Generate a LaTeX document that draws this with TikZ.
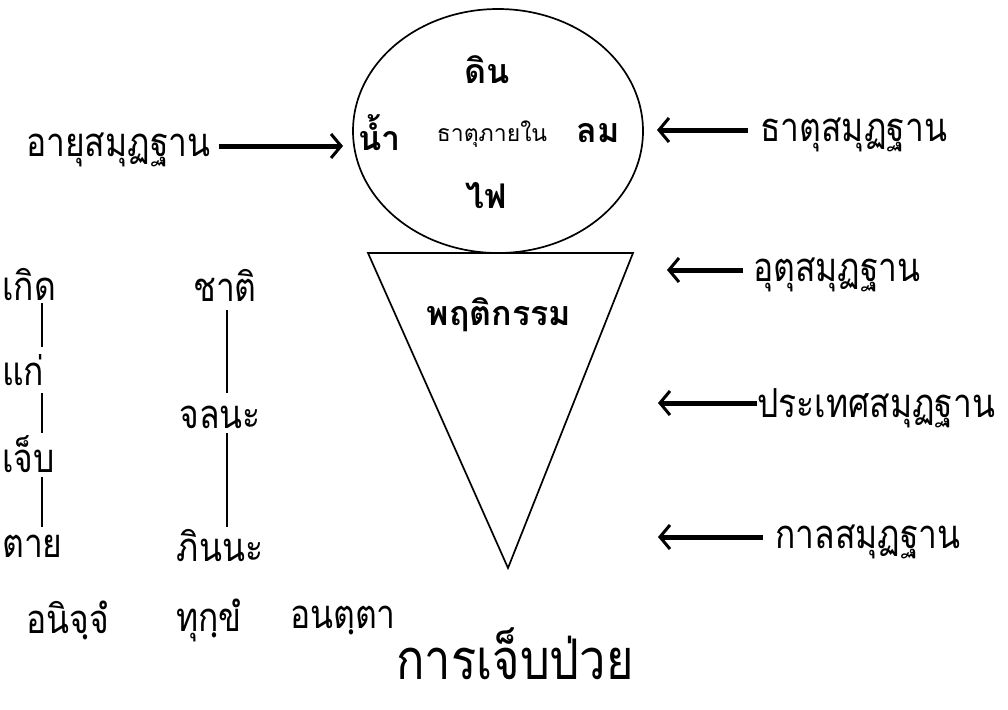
\documentclass[tikz,border=0pt]{standalone}
\usepackage{fontspec}
\newfontfamily\thai[Script=Thai]{Loma}
\newfontfamily\thaicond[Script=Thai, FakeStretch=0.84]{Loma}
\usetikzlibrary{arrows.meta,shapes.geometric}
\begin{document}
\begin{tikzpicture}[x=1pt,y=-1pt,
  lbl/.style={font=\thaicond\fontsize{40}{44}\selectfont, inner sep=0pt},
  elem/.style={font=\thai\bfseries\fontsize{34}{38}\selectfont, inner sep=0pt},
  small/.style={font=\thai\fontsize{23}{26}\selectfont, inner sep=0pt},
  title/.style={font=\thaicond\fontsize{56}{60}\selectfont, inner sep=0pt},
  bigarrow/.style={line width=5pt, -{Straight Barb[length=10pt,width=24pt,line width=3pt]}},
  link/.style={line width=1.3pt},
  shape line/.style={line width=1.7pt}]
\useasboundingbox (0,0) rectangle (1008,709);
% ellipse
\node[draw, ellipse, shape line, minimum width=290pt, minimum height=244pt, inner sep=0pt] (body) at (498,131) {};
\node[elem] (din) at (487,70) {ดิน};
\node[elem, anchor=west] (nam) at (358,133) {น้ำ};
\node[small] (inner) at (492,134) {ธาตุภายใน};
\node[elem, anchor=east] (lom) at (620,133) {ลม};
\node[elem] (fai) at (486,196) {ไฟ};
% triangle
\coordinate (tl) at (368,253);
\coordinate (tr) at (633,253);
\coordinate (tb) at (508,568);
\draw[shape line] (tl) -- (tr) -- (tb) -- cycle;
\node[elem] (pruet) at (499,315) {พฤติกรรม};
% left arrow
\node[lbl, anchor=west] (ayu) at (26,150) {อายุสมุฏฐาน};
\coordinate (ayutip) at (343,146);
\draw[bigarrow] ([xshift=8pt]ayu.east |- ayutip) -- (ayutip);
% right arrows
\node[lbl, anchor=west] (thatu) at (760,135) {ธาตุสมุฏฐาน};
\coordinate (thatutip) at (657,130);
\draw[bigarrow] ([xshift=-12pt]thatu.west |- thatutip) -- (thatutip);
\node[lbl, anchor=west] (utu) at (753,275) {อุตุสมุฏฐาน};
\coordinate (ututip) at (667,270);
\draw[bigarrow] ([xshift=-10pt]utu.west |- ututip) -- (ututip);
\node[lbl, anchor=west] (prathet) at (757,408) {ประเทศสมุฏฐาน};
\coordinate (prathettip) at (658,403);
\draw[bigarrow] (prathet.west |- prathettip) -- (prathettip);
\node[lbl, anchor=west] (kan) at (775,542) {กาลสมุฏฐาน};
\coordinate (kantip) at (658,537);
\draw[bigarrow] ([xshift=-12pt]kan.west |- kantip) -- (kantip);
% left columns
\node[lbl, anchor=west] (koet) at (2,285) {เกิด};
\node[lbl, anchor=west] (kae) at (2,370) {แก่};
\node[lbl, anchor=west] (jep) at (2,454) {เจ็บ};
\node[lbl, anchor=west] (tai) at (2,546) {ตาย};
\draw[link] (42,303) -- (42,347);
\draw[link] (42,393) -- (42,433);
\draw[link] (42,477) -- (42,527);
\node[lbl] (chat) at (225,285) {ชาติ};
\node[lbl] (chalana) at (220,417) {จลนะ};
\node[lbl] (phinna) at (220,546) {ภินนะ};
\draw[link] (227,310) -- (227,393);
\draw[link] (227,433) -- (227,527);
% bottom
\node[lbl, anchor=west] (anicca) at (26,620) {อนิจฺจํ};
\node[lbl, anchor=west] (dukkha) at (176,620) {ทุกฺขํ};
\node[lbl, anchor=west] (anatta) at (290,620) {อนตฺตา};
\node[title] (illness) at (515,654) {การเจ็บป่วย};
\end{tikzpicture}
\end{document}
